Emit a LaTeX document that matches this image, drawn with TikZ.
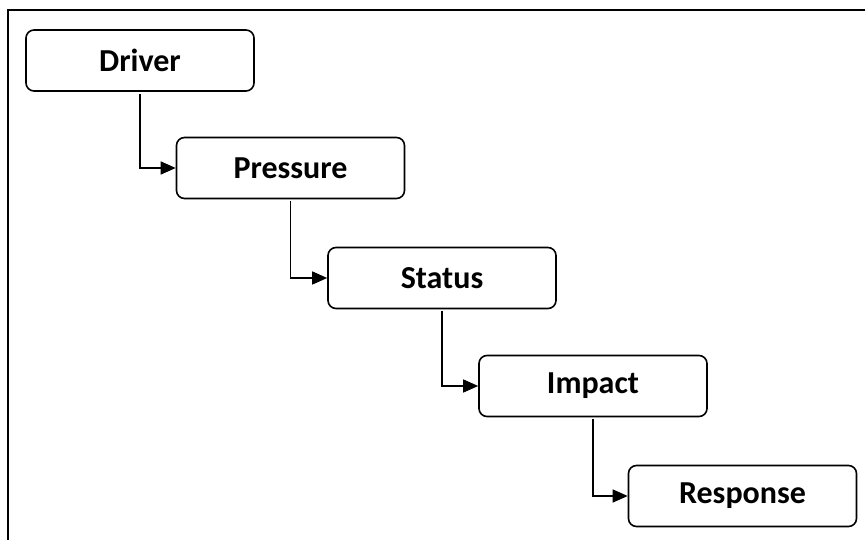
\documentclass[tikz,border=0pt]{standalone}
\usepackage{fontspec}
\setmainfont{Carlito}
\usetikzlibrary{arrows.meta}
\begin{document}
\begin{tikzpicture}[x=1pt,y=-1pt,
  stage/.style={draw=black, line width=1.6pt, rounded corners=8pt,
    minimum width=228pt, minimum height=61pt, inner sep=0pt,
    font=\fontsize{32}{38}\selectfont\bfseries},
  link/.style={draw=black, line width=1.4pt, shorten <=2pt,
    -{Triangle[length=15pt,width=13pt]}}]
  \useasboundingbox (0,0) rectangle (865,540);
  % frame: only top and left edges fall inside the page
  \draw[line width=1.8pt] (8,541) -- (8,10) -- (866,10);
  % stages
  \node[stage] (driver)   at (140,60.5)  {Driver};
  \node[stage] (pressure) at (290.5,168) {Pressure};
  \node[stage] (status)   at (442,278)   {Status};
  \node[stage] (impact)   at (593,386)   {Impact};
  \node[stage] (response) at (742.5,496) {Response};
  % links
  \draw[link] (driver.south)   |- (pressure.west);
  \draw[link] (pressure.south) |- (status.west);
  \draw[link] (status.south)   |- (impact.west);
  \draw[link] (impact.south)   |- (response.west);
\end{tikzpicture}
\end{document}
